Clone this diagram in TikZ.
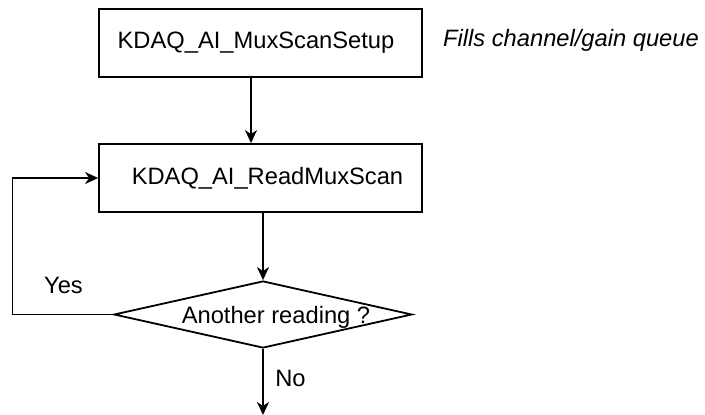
\documentclass[tikz,border=0pt]{standalone}
\usepackage{fontspec}
\setmainfont{Liberation Sans}
\usetikzlibrary{arrows.meta,shapes.geometric}
\begin{document}
\begin{tikzpicture}[x=1pt,y=-1pt,
  every node/.style={font=\fontsize{23.7pt}{28pt}\selectfont},
  box/.style={draw,line width=1.8pt,minimum width=323pt,minimum height=68pt,inner sep=0pt},
  decision/.style={draw,diamond,line width=1.8pt,minimum width=298pt,minimum height=67pt,inner sep=0pt},
  lbl/.style={inner sep=0pt,anchor=base},
  arr/.style={line width=1.6pt,-{Stealth[length=13pt,width=12pt,inset=4pt]}}]
\useasboundingbox (0,0) rectangle (705,415);
\node[box] (b1) at (260.5,43) {KDAQ\_AI\_MuxScanSetup\kern9pt};
\node[lbl,anchor=base west,font=\fontsize{23.7pt}{28pt}\selectfont\itshape] (note) at (443,46.5) {Fills channel/gain queue};
\node[box] (b2) at (260.5,178) {\kern14pt KDAQ\_AI\_ReadMuxScan};
\node[decision] (d) at (263,314.5) {};
\node[lbl] (dt) at (276,323) {Another reading ?};
\node[lbl] (yes) at (63.5,293) {Yes};
\node[lbl] (no) at (290.5,386) {No};
\coordinate (lp) at (12.5,178);
\coordinate (out) at (263,415);
\draw[arr] ([xshift=-9.5pt]b1.south) -- ([xshift=-9.5pt]b2.north);
\draw[arr] (b2.south -| d.north) -- (d.north);
\draw[arr] (d.west) -| (lp) -- (b2.west);
\draw[arr] (d.south) -- (out);
\end{tikzpicture}
\end{document}
